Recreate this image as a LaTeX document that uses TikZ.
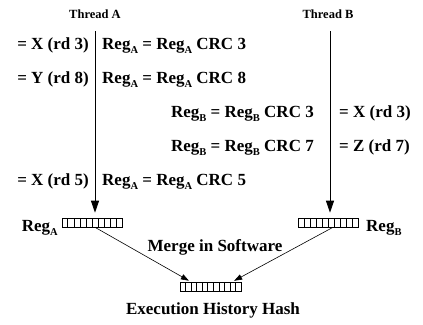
\documentclass[tikz,border=0pt]{standalone}
\usepackage{fontspec}
\setmainfont{Liberation Serif}
\usetikzlibrary{arrows.meta,calc}
\newcommand{\regsub}[1]{\raisebox{-4pt}{\fontsize{10.5}{12}\selectfont #1}}
\newcommand{\regcells}[2]{\foreach \k in {1,...,#2}{\draw[line width=0.6pt] ($(#1.south west)!{\k/(#2+1)}!(#1.south east)$) -- ($(#1.north west)!{\k/(#2+1)}!(#1.north east)$);}}
\begin{document}
\begin{tikzpicture}[x=1pt,y=-1pt,
  every node/.style={font=\fontsize{17}{20}\selectfont\bfseries, inner sep=0pt},
  threadlbl/.style={font=\fontsize{12.5}{15}\selectfont\bfseries},
  regbox/.style={draw, line width=0.6pt, minimum width=60pt, minimum height=9pt},
  thread/.style={line width=0.9pt, -{Triangle[length=12pt,width=8pt]}, shorten >=5pt},
  merge/.style={line width=0.6pt, -{Triangle[length=8pt,width=5.5pt]}, shorten >=3pt}]
\useasboundingbox (0,0) rectangle (423,324);
\node[threadlbl, anchor=base] (thA) at (95,18) {Thread A};
\node[threadlbl, anchor=base] (thB) at (328,18) {Thread B};
\coordinate (topA) at (95,31);
\coordinate (topB) at (330,31);

\node[anchor=base east] (rdA1) at (89,49) {= X (rd 3)};
\node[anchor=base west] (crcA1) at (102,49) {Reg\regsub{A} = Reg\regsub{A} CRC 3};
\node[anchor=base east] (rdA2) at (89,83) {= Y (rd 8)};
\node[anchor=base west] (crcA2) at (102,83) {Reg\regsub{A} = Reg\regsub{A} CRC 8};
\node[anchor=base east] (crcB1) at (314,117) {Reg\regsub{B} = Reg\regsub{B} CRC 3};
\node[anchor=base west] (rdB1) at (339,117) {= X (rd 3)};
\node[anchor=base east] (crcB2) at (314,151) {Reg\regsub{B} = Reg\regsub{B} CRC 7};
\node[anchor=base west] (rdB2) at (339,151) {= Z (rd 7)};
\node[anchor=base east] (rdA3) at (89,185) {= X (rd 5)};
\node[anchor=base west] (crcA3) at (102,185) {Reg\regsub{A} = Reg\regsub{A} CRC 5};

\node[regbox] (regA) at (92,222.5) {};
\regcells{regA}{9}
\node[regbox] (regB) at (328.5,222.5) {};
\regcells{regB}{9}
\node[regbox, minimum width=61pt] (hash) at (210.5,287) {};
\regcells{hash}{10}
\node[anchor=base east] (lblA) at (58,231) {Reg\regsub{A}};
\node[anchor=base west] (lblB) at (366,231) {Reg\regsub{B}};
\node[anchor=base] (merge) at (215,251) {Merge in Software};
\node[anchor=base] (hashlbl) at (213,314) {Execution History Hash};

\draw[thread] (topA) -- (topA |- regA.north);
\draw[thread] (topB) -- (topB |- regB.north);
\draw[merge] ([xshift=3pt]regA.south) -- ([xshift=-19pt]hash.north);
\draw[merge] ([xshift=4.5pt]regB.south) -- ([xshift=21pt]hash.north);
\end{tikzpicture}
\end{document}
